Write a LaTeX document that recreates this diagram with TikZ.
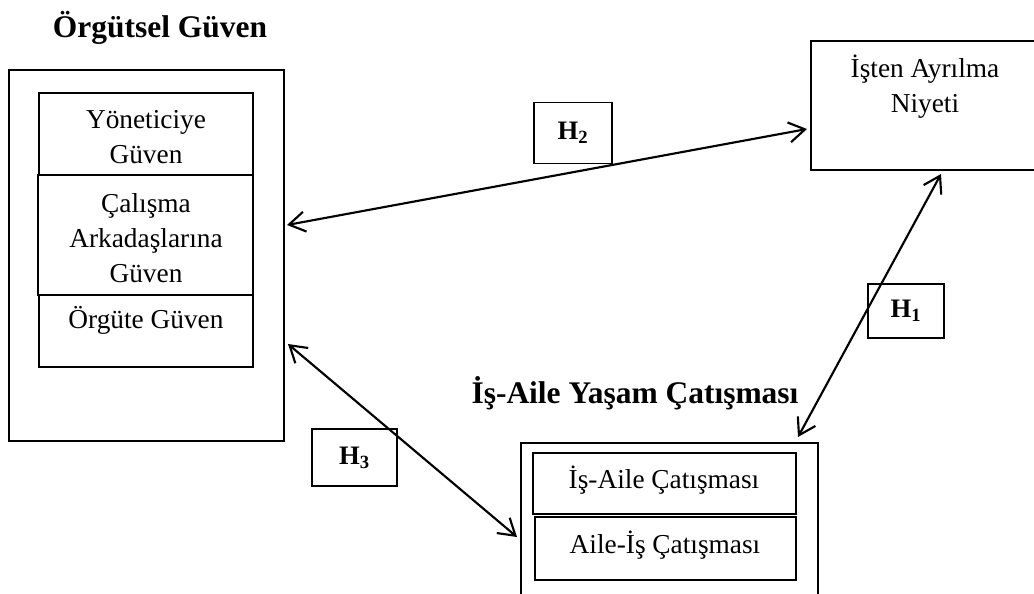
\documentclass[tikz,border=0pt]{standalone}
\usepackage{fontspec}
\setmainfont{Liberation Serif}
\usetikzlibrary{arrows.meta,calc,fit}

\tikzset{every picture/.style={line width=0.75pt}}
\tikzset{
  box/.style={draw, line width=1.5pt, inner sep=0pt},
  hyp/.style={draw, line width=1.2pt, inner sep=0pt, font=\fontsize{20}{24}\selectfont\bfseries},
  txt/.style={anchor=base, inner sep=0.75pt, align=center, font=\fontsize{20.5}{26.25}\selectfont},
  ttl/.style={anchor=base, inner sep=0.75pt, font=\fontsize{23.6}{28}\selectfont\bfseries},
  link/.style={line width=1.6pt, {Straight Barb[length=12pt,width=15pt]}-{Straight Barb[length=12pt,width=15pt]}}
}

\begin{document}
\begin{tikzpicture}[x=0.75pt,y=0.75pt,yscale=-1,xscale=1]
		\clip (0,0) rectangle (1034,593); %picture is 1034 x 593
		
		%Titles
		\draw (160,37) node [ttl] (ttlog) {Örgütsel Güven};
		\draw (635,403) node [ttl] (ttliay) {İş-Aile Yaşam Çatışması};
		
		%Shape: Örgütsel Güven box
		\node [box, fit={(9,70) (284,441)}] (og) {};
		\draw [line width=1.2pt] (39,93) rectangle (253,175);
		\draw [line width=1.2pt] (38,175) rectangle (253,295);
		\draw [line width=1.2pt] (39,295) rectangle (253,367);
		\draw (146,163) node [txt] (yg) {Yöneticiye\\Güven};
		\draw (146,282) node [txt] (cag) {Çalışma\\Arkadaşlarına\\Güven};
		\draw (146,328) node [txt] (org) {Örgüte Güven};
		
		%Shape: İşten Ayrılma Niyeti box (right side cut off)
		\node [box, fit={(811,41) (1050,170)}] (ian) {};
		\draw (925,112) node [txt] (iant) {İşten Ayrılma\\Niyeti};
		
		%Shape: İş-Aile Yaşam Çatışması box (bottom cut off)
		\node [box, fit={(521,443) (818,610)}] (iay) {};
		\draw [line width=1.2pt] (533,453) rectangle (796,514);
		\draw [line width=1.2pt] (535,517) rectangle (796,580);
		\draw (664,488) node [txt] (iac) {İş-Aile Çatışması};
		\draw (665,553) node [txt] (aic) {Aile-İş Çatışması};
		
		%Hypotheses
		\draw (573,133) node [hyp, minimum width=58.5pt, minimum height=45.75pt] (h2) {H\textsubscript{2}};
		\draw (906,311) node [hyp, minimum width=57pt, minimum height=40.5pt] (h1) {H\textsubscript{1}};
		\draw (354.5,457.5) node [hyp, minimum width=63.75pt, minimum height=42.75pt] (h3) {H\textsubscript{3}};
		
		%Connectors
		\draw [link] ($(og.north east)+(2,156)$) -- ($(ian.north west)+(-3,89)$);
		\draw [link] ($(iay.north east)+(-21,-5)$) -- ($(ian.south west)+(131,3)$);
		\draw [link] ($(og.north east)+(3,275)$) -- ($(iay.north west)+(-3,95)$);
		
	\end{tikzpicture}
\end{document}
